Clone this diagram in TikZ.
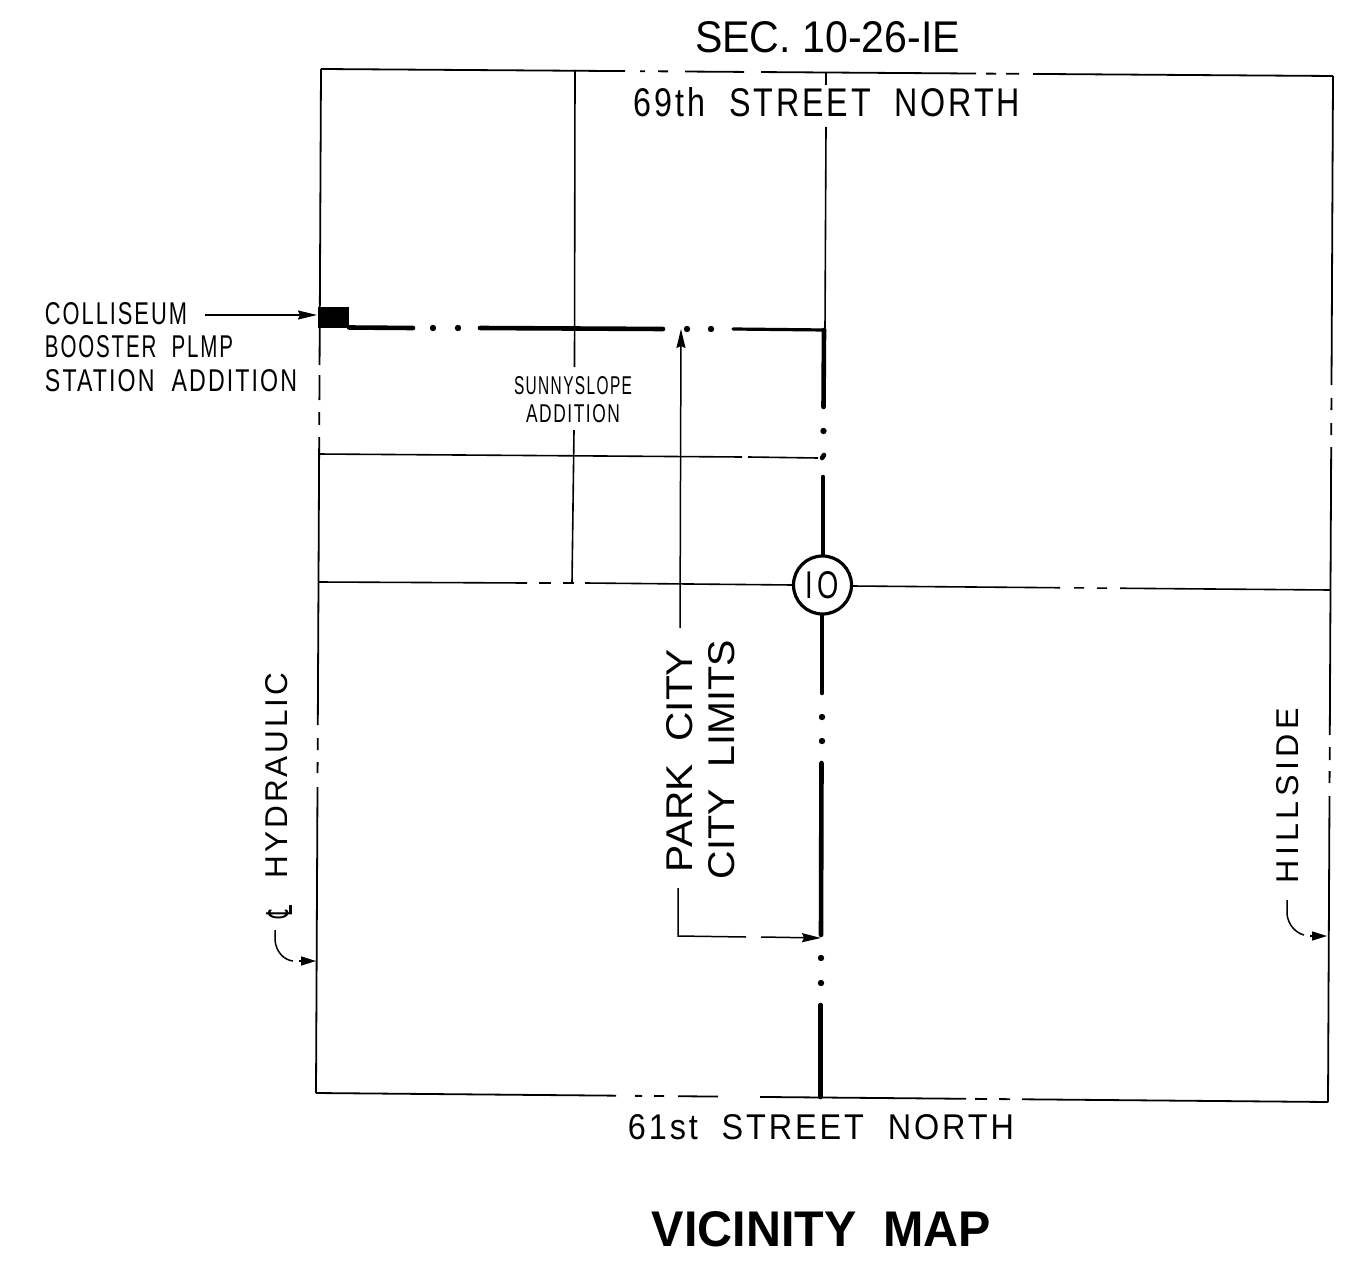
\documentclass[tikz,border=0pt]{standalone}
\usepackage{fontspec}
\usepackage{graphicx}
\usetikzlibrary{arrows.meta}
\setmainfont{Liberation Sans}
\newfontfamily\lsfont[LetterSpace=9]{Liberation Sans}
\newfontfamily\lswide[LetterSpace=14]{Liberation Sans}
\newfontfamily\cjsym{DejaVu Sans}
\newcommand{\fitt}[3]{\resizebox{#1pt}{#2pt}{#3}}
\tikzset{
  lbl/.style={inner sep=0pt,outer sep=0pt,text=black},
  frameline/.style={line width=1.8pt,black},
  road/.style={line width=1.6pt,black},
  bigroad/.style={line width=4.6pt,black,line cap=round},
  dotmark/.style={fill=black,draw=none},
  leader/.style={line width=1.5pt,black,-{Stealth[length=19pt,width=9pt,inset=2pt]}},
  shortleader/.style={line width=1.5pt,black,-{Stealth[length=15pt,width=9pt,inset=0pt]}},
  hookline/.style={line width=1.5pt,black},
  shield/.style={draw=black,line width=3.2pt,fill=white,circle,minimum size=58pt,inner sep=0pt}
}
\begin{document}
\begin{tikzpicture}[x=1pt,y=-1pt]
\useasboundingbox (0,0) rectangle (1360,1268);
\fill[white] (0,0) rectangle (1360,1268);

% frame: top edge
\foreach \a/\b in {321/625,640/645,658/668,685/744,761/976,986/996,1006/1019,1033/1333}
  \draw[frameline] (\a,{69+(\a-321)*7/1012}) -- (\b,{69+(\b-321)*7/1012});
% frame: bottom edge
\foreach \a/\b in {316/616,635/642,654/664,678/718,760/966,975/987,999/1010,1022/1328}
  \draw[frameline] (\a,{1093+(\a-316)*9/1012}) -- (\b,{1093+(\b-316)*9/1012});
% frame: left edge
\foreach \a/\b in {69/365,375/400,412/425,437/725,738/750,762/773,787/1093}
  \draw[frameline] ({321-(\a-69)*5/1024},\a) -- ({321-(\b-69)*5/1024},\b);
% frame: right edge
\foreach \a/\b in {76/385,398/410,423/435,447/735,747/760,771/783,796/1102}
  \draw[frameline] ({1333-(\a-76)*5/1026},\a) -- ({1333-(\b-76)*5/1026},\b);

% thin streets
\draw[road] (575,70) -- (574.5,367);
\draw[road] (574,430) -- (572,583);
\draw[road] (826,72) -- (826,85);
\draw[road] (826,127) -- (825,329);
\draw[road] (318,454) -- (742,457);
\draw[road] (748,457) -- (818,458);
\draw[road] (318,582) -- (527,583);
\draw[road] (539,583) -- (551,583);
\draw[road] (563,583) -- (574,583);
\draw[road] (585,583) -- (793,585);
\foreach \a/\b in {852/1060,1074/1084,1097/1107,1120/1330}
  \draw[road] (\a,{586+(\a-852)*4/478}) -- (\b,{586+(\b-852)*4/478});

% heavy water line
\fill[black] (318,307) rectangle (349,328);
\draw[bigroad] (349,327.5) -- (413,328);
\draw[bigroad] (480,328) -- (663,329);
\draw[line width=3.2pt,black,line cap=round] (733,329) -- (825,330);
\draw[bigroad] (824,330) -- (823.5,407);
\draw[bigroad] (824,455) -- (822,458);
\draw[bigroad] (823,477) -- (823,557);
\draw[bigroad] (822,616) -- (822,693);
\draw[bigroad] (821.5,763) -- (821,935);
\draw[bigroad] (820.5,1005) -- (820.5,1097);
\foreach \p in {(433,328),(458,328),(687,329),(711,329),(823.5,431),(822,717),(822,741),(821,958),(821,983)}
  \fill[dotmark] \p circle (3.2);

% route shield
\node[shield] (route) at (822.5,585) {};
\node[lbl] (routenum) at (822,585.5) {\fitt{33}{27}{I\kern1.5pt O}};

% text
\node[lbl] (sec) at (827.5,37.5) {\fitt{265}{31}{SEC. 10-26-IE}};
\node[lbl] (north) at (827,102.5) {\fitt{386}{29}{\lsfont 69th\ \ STREET\ \ NORTH}};
\node[lbl] (south) at (821,1127.5) {\fitt{386}{25}{\lsfont 61st\ \ STREET\ \ NORTH}};
\node[lbl] (title) at (821.5,1229.5) {\fitt{339}{35}{\textbf{VICINITY\ \ MAP}}};
\node[lbl] (coll) at (116,313.5) {\fitt{142}{22}{\lsfont COLLISEUM}};
\node[lbl] (boost) at (139,346.5) {\fitt{188}{22}{\lsfont BOOSTER\ \ PLMP}};
\node[lbl] (stat) at (171,380.5) {\fitt{252}{22}{\lsfont STATION\ \ ADDITION}};
\node[lbl] (sunny) at (573,386) {\fitt{118}{18}{\lsfont SUNNYSLOPE}};
\node[lbl] (addn) at (573,414) {\fitt{94}{18}{\lsfont ADDITION}};
\node[lbl,rotate=90] (park) at (680,760.5) {\fitt{223}{26}{PARK\ \ CITY}};
\node[lbl,rotate=90] (limits) at (722,759.5) {\fitt{239}{26}{CITY\ \ LIMITS}};
\node[lbl,rotate=90] (hydr) at (277,775.5) {\fitt{205}{22}{\lsfont HYDRAULIC}};
\node[lbl,rotate=90] (clsym) at (279,911.5) {\fitt{13}{26}{\cjsym ℄}};
\node[lbl,rotate=90] (hill) at (1288,795.5) {\fitt{175}{22}{\lswide HILLSIDE}};

% leaders
\coordinate (pumpend) at (317,315);
\coordinate (parktip) at (681,329);
\coordinate (parkbot) at (680,628);
\coordinate (citycorner) at (678,936);
\coordinate (citybegin) at (678,888);
\coordinate (citytip) at (821,938);
\coordinate (hydrtip) at (316,961);
\coordinate (hilltip) at (1327,936);
\coordinate (hydrstart) at (275,930);
\coordinate (hillstart) at (1287,900);

\draw[leader] (205,315) -- (pumpend);
\draw[leader] (parkbot) -- (parktip);
\draw[hookline] (citybegin) -- (citycorner) -- (746,937);
\draw[leader] (761,937) -- (citytip);
\draw[hookline] (hydrstart) -- (275,940) .. controls (276,952) and (284,960) .. (293,961);
\draw[shortleader] (299,961) -- (hydrtip);
\draw[hookline] (hillstart) -- (1287,914) .. controls (1288,925) and (1296,933) .. (1304,935);
\draw[shortleader] (1310,936) -- (hilltip);
\end{tikzpicture}
\end{document}
